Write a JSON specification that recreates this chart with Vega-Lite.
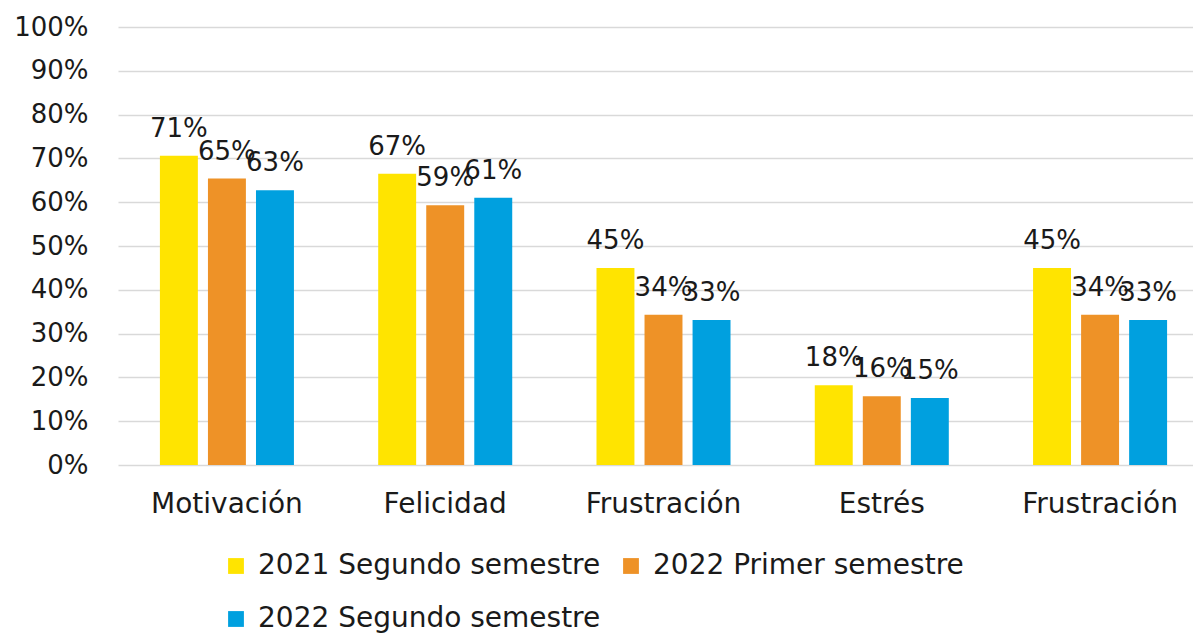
{
  "$schema": "https://vega.github.io/schema/vega-lite/v6.json",
  "width": 1075,
  "height": 438,
  "autosize": {"type": "none"},
  "padding": {"left": 118, "top": 27, "right": 0, "bottom": 172},
  "background": "white",
  "config": {
    "font": "DejaVu Sans",
    "view": {"stroke": null}
  },
  "data": {
    "values": [
      {"pos": 0, "categoria": "Motivación", "serie": "2021 Segundo semestre", "valor": 0.706},
      {"pos": 0, "categoria": "Motivación", "serie": "2022 Primer semestre", "valor": 0.654},
      {"pos": 0, "categoria": "Motivación", "serie": "2022 Segundo semestre", "valor": 0.627},
      {"pos": 1, "categoria": "Felicidad", "serie": "2021 Segundo semestre", "valor": 0.665},
      {"pos": 1, "categoria": "Felicidad", "serie": "2022 Primer semestre", "valor": 0.593},
      {"pos": 1, "categoria": "Felicidad", "serie": "2022 Segundo semestre", "valor": 0.61},
      {"pos": 2, "categoria": "Frustración", "serie": "2021 Segundo semestre", "valor": 0.45},
      {"pos": 2, "categoria": "Frustración", "serie": "2022 Primer semestre", "valor": 0.343},
      {"pos": 2, "categoria": "Frustración", "serie": "2022 Segundo semestre", "valor": 0.331},
      {"pos": 3, "categoria": "Estrés", "serie": "2021 Segundo semestre", "valor": 0.182},
      {"pos": 3, "categoria": "Estrés", "serie": "2022 Primer semestre", "valor": 0.157},
      {"pos": 3, "categoria": "Estrés", "serie": "2022 Segundo semestre", "valor": 0.153},
      {"pos": 4, "categoria": "Frustración", "serie": "2021 Segundo semestre", "valor": 0.45},
      {"pos": 4, "categoria": "Frustración", "serie": "2022 Primer semestre", "valor": 0.343},
      {"pos": 4, "categoria": "Frustración", "serie": "2022 Segundo semestre", "valor": 0.331}
    ]
  },
  "encoding": {
    "x": {
      "field": "pos",
      "type": "ordinal",
      "scale": {"range": [0, 1091], "paddingInner": 0.386, "paddingOuter": 0.192},
      "axis": {
        "title": null,
        "labelAngle": 0,
        "labelExpr": "['Motivación','Felicidad','Frustración','Estrés','Frustración'][datum.value]",
        "labelFontSize": 28,
        "labelColor": "#1a1a1a",
        "labelPadding": 25,
        "ticks": false,
        "domain": false,
        "grid": false
      }
    },
    "xOffset": {
      "field": "serie",
      "type": "nominal",
      "scale": {"paddingInner": 0.21, "paddingOuter": 0}
    },
    "y": {
      "field": "valor",
      "type": "quantitative",
      "scale": {"domain": [0, 1], "nice": false},
      "axis": {
        "title": null,
        "format": ".0%",
        "values": [0, 0.1, 0.2, 0.3, 0.4, 0.5, 0.6, 0.7, 0.8, 0.9, 1],
        "labelFontSize": 26,
        "labelColor": "#1a1a1a",
        "labelPadding": 30,
        "ticks": false,
        "domain": false,
        "grid": true,
        "gridColor": "#d9d9d9",
        "gridWidth": 1.5
      }
    }
  },
  "layer": [
    {
      "mark": {"type": "bar"},
      "encoding": {
        "color": {
          "field": "serie",
          "type": "nominal",
          "scale": {
            "domain": ["2021 Segundo semestre", "2022 Primer semestre", "2022 Segundo semestre"],
            "range": ["#ffe400", "#ee9227", "#00a0df"]
          },
          "legend": {
            "title": null,
            "orient": "none",
            "legendX": 104,
            "legendY": 525,
            "direction": "horizontal",
            "columns": 2,
            "symbolType": "square",
            "symbolSize": 250,
            "symbolStrokeWidth": 0,
            "labelFontSize": 28,
            "labelColor": "#1a1a1a",
            "labelOffset": 8,
            "columnPadding": 16,
            "rowPadding": 25,
            "labelLimit": 500
          }
        }
      }
    },
    {
      "mark": {"type": "text", "baseline": "alphabetic", "dy": -19, "fontSize": 26, "color": "#1a1a1a"},
      "encoding": {
        "text": {"field": "valor", "type": "quantitative", "format": ".0%"}
      }
    }
  ]
}
